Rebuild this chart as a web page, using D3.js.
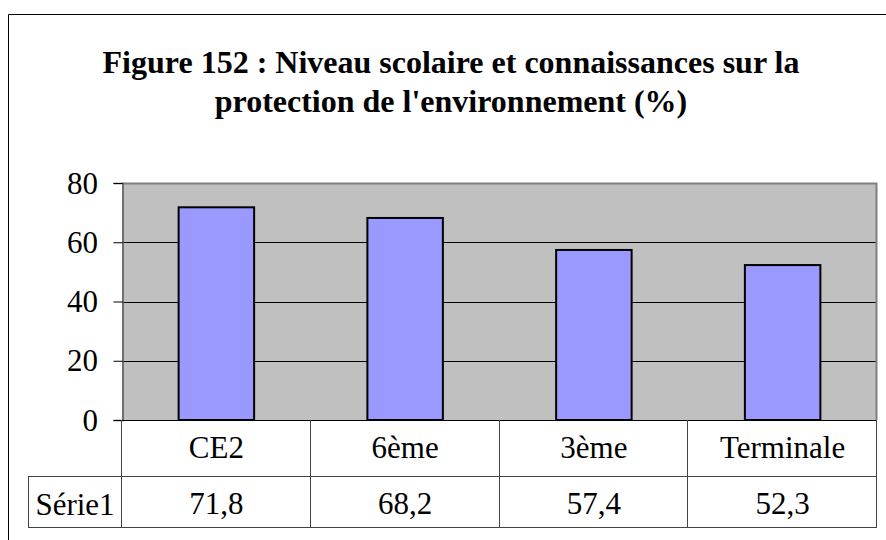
<!DOCTYPE html>
<html>
<head>
<meta charset="utf-8">
<script src="https://cdn.jsdelivr.net/npm/d3@7"></script>
<style>
  html, body { margin: 0; padding: 0; background: #fff; }
  svg { display: block; }
</style>
</head>
<body>
<svg id="chart" width="886" height="540"></svg>
<script>
// Data
const categories = ["CE2", "6ème", "3ème", "Terminale"];
const values = [71.8, 68.2, 57.4, 52.3];
const valueLabels = ["71,8", "68,2", "57,4", "52,3"];
const seriesName = "Série1";
const yTicks = [0, 20, 40, 60, 80];
const titleLines = [
  "Figure 152 : Niveau scolaire et connaissances sur la",
  "protection de l'environnement (%)"
];

const fontFamily = '"Liberation Serif", "Times New Roman", Times, serif';

const svg = d3.select("#chart");
const W = 886, H = 540;

// Plot area and data table geometry
const plot = { left: 122, right: 877, top: 183, bottom: 420 };
const tableRow1 = 476, tableRow2 = 527, tableLeft = 28;

const x = d3.scaleBand().domain(categories).range([plot.left, plot.right]).padding(0);
const y = d3.scaleLinear().domain([0, 80]).range([plot.bottom, plot.top]);

function label(g, tx, ty, str, size, anchor, weight) {
  return g.append("text")
    .attr("x", tx).attr("y", ty)
    .attr("text-anchor", anchor)
    .attr("font-family", fontFamily)
    .attr("font-size", size)
    .attr("font-weight", weight || "normal")
    .attr("fill", "#000")
    .text(str);
}

// Outer chart frame (runs off the right and bottom edges)
svg.append("path")
  .attr("d", `M8.5,${H + 2} V14.5 H${W + 2}`)
  .attr("fill", "none").attr("stroke", "#000").attr("stroke-width", 1);

// Title
const titleG = svg.append("g");
titleLines.forEach((t, i) => {
  label(titleG, 451, 73 + i * 39, t, 32, "middle", "bold");
});

// Plot background
svg.append("rect")
  .attr("x", plot.left).attr("y", plot.top)
  .attr("width", plot.right - plot.left).attr("height", plot.bottom - plot.top)
  .attr("fill", "#c0c0c0");

// Gridlines
svg.append("g").selectAll("line")
  .data(yTicks.filter(d => d > 0 && d < 80))
  .join("line")
  .attr("x1", plot.left).attr("x2", plot.right)
  .attr("y1", d => Math.round(y(d)) + 0.5).attr("y2", d => Math.round(y(d)) + 0.5)
  .attr("stroke", "#000").attr("stroke-width", 1);

// Plot border (top and right in gray)
svg.append("path")
  .attr("d", `M${plot.left},${plot.top + 0.5} H${plot.right - 0.5} V${plot.bottom}`)
  .attr("fill", "none").attr("stroke", "#808080").attr("stroke-width", 2);

// Bars
const bw = x.bandwidth() * 0.4;
svg.append("g").selectAll("rect")
  .data(categories.map((c, i) => ({ c, v: values[i] })))
  .join("rect")
  .attr("x", d => x(d.c) + (x.bandwidth() - bw) / 2)
  .attr("y", d => y(d.v))
  .attr("width", bw)
  .attr("height", d => plot.bottom - y(d.v))
  .attr("fill", "#9999ff")
  .attr("stroke", "#000").attr("stroke-width", 2);

// Y axis
const yAxis = d3.axisLeft(y).tickValues(yTicks).tickSize(9).tickFormat("");
const yg = svg.append("g").attr("transform", `translate(${plot.left + 0.5},0)`).call(yAxis);
yg.select(".domain").attr("stroke", "#555").attr("stroke-width", 1.5);
yg.selectAll(".tick line").attr("stroke", "#000");
yTicks.forEach(v => {
  label(svg, 98, y(v) + 10.5, String(v), 31, "end");
});

// Data table grid
const tg = svg.append("g").attr("stroke", "#444").attr("stroke-width", 1).attr("fill", "none");
tg.append("line").attr("x1", tableLeft).attr("x2", plot.right).attr("y1", tableRow1 + 0.5).attr("y2", tableRow1 + 0.5);
tg.append("line").attr("x1", tableLeft).attr("x2", plot.right).attr("y1", tableRow2 + 0.5).attr("y2", tableRow2 + 0.5);
tg.append("line").attr("x1", plot.left).attr("x2", plot.right).attr("y1", plot.bottom + 0.5).attr("y2", plot.bottom + 0.5).attr("stroke", "#000");
tg.append("line").attr("x1", tableLeft + 0.5).attr("x2", tableLeft + 0.5).attr("y1", tableRow1).attr("y2", tableRow2);
tg.selectAll(".vline")
  .data(categories.map(c => x(c)).concat([plot.right]))
  .join("line")
  .attr("class", "vline")
  .attr("x1", d => Math.round(d) - 0.5).attr("x2", d => Math.round(d) - 0.5)
  .attr("y1", plot.bottom).attr("y2", tableRow2);

// Data table text
categories.forEach((c, i) => {
  const cx = x(c) + x.bandwidth() / 2;
  label(svg, cx, 458, c, 31, "middle");
  label(svg, cx, 514, valueLabels[i], 31, "middle");
});
label(svg, (tableLeft + plot.left) / 2, 515, seriesName, 31, "middle");
</script>
</body>
</html>
